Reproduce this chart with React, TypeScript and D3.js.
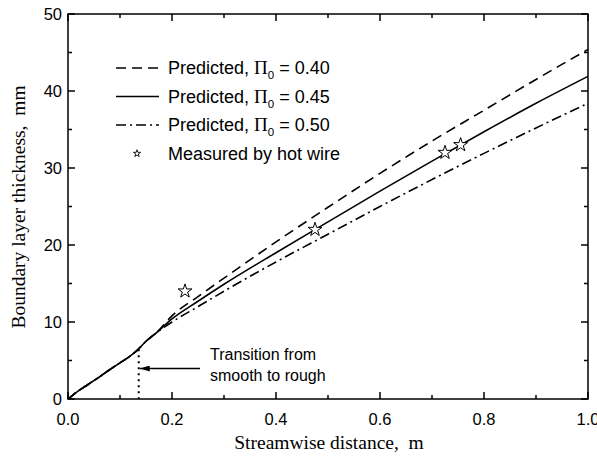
import React from "react";
import * as d3 from "d3";

const xMajor = [0, 0.2, 0.4, 0.6, 0.8, 1.0];
const xMinor = [0.1, 0.3, 0.5, 0.7, 0.9];
const yMajor = [0, 10, 20, 30, 40, 50];
const yMinor = [5, 15, 25, 35, 45];

const sharedX = [0, 0.01, 0.02, 0.04, 0.06, 0.08, 0.1, 0.12, 0.135, 0.15, 0.17];
const sharedY = [0, 0.55, 1.05, 1.95, 2.85, 3.8, 4.7, 5.6, 6.45, 7.5, 8.6];
const tailX = [0.2, 0.25, 0.3, 0.4, 0.5, 0.6, 0.7, 0.8, 0.9, 1.0];
const pred040 = [10.8, 13.3, 15.7, 20.4, 24.9, 29.3, 33.5, 37.5, 41.5, 45.4];
const pred045 = [10.4, 12.7, 14.9, 19.0, 23.0, 27.0, 30.9, 34.7, 38.4, 41.9];
const pred050 = [10.0, 12.0, 14.0, 17.8, 21.4, 25.0, 28.5, 31.9, 35.2, 38.4];

const measuredX = [0.225, 0.475, 0.725, 0.755];
const measuredY = [14, 22, 32, 33];

const legendPi = ["0.40", "0.45", "0.50"];
const transitionX = 0.136;

const W = 597, H = 458;
const x = d3.scaleLinear().domain([0, 1]).range([68, 588]);
const y = d3.scaleLinear().domain([0, 50]).range([399, 14]);

const line = d3
  .line<[number, number]>()
  .x((d) => x(d[0]))
  .y((d) => y(d[1]))
  .curve(d3.curveMonotoneX);

function series(vals: number[]): [number, number][] {
  const pts: [number, number][] = sharedX.map((v, i) => [v, sharedY[i]]);
  tailX.forEach((v, i) => pts.push([v, vals[i]]));
  return pts;
}

const styles = [
  { dash: "10,6" },
  { dash: null },
  { dash: "10,4,2,4" },
];

const starBig = d3.symbol(d3.symbolStar, 60)()!;
const starSmall = d3.symbol(d3.symbolStar, 16)()!;

const sans = "'Liberation Sans', Arial, sans-serif";
const serif = "'Liberation Serif', 'Times New Roman', serif";

export default function App() {
  const data = [pred040, pred045, pred050];
  const [x0, x1] = x.range();
  const [y0, y1] = y.range();
  return (
    <svg
      width={W}
      height={H}
      style={{ position: "absolute", left: 0, top: 0, background: "#fff" }}
    >
      <defs>
        <marker id="arr" viewBox="0 0 10 6" refX="10" refY="3" markerWidth="10" markerHeight="6" markerUnits="userSpaceOnUse" orient="auto">
          <path d="M0,0 L10,3 L0,6 Z" fill="#000" />
        </marker>
      </defs>
      {data.map((vals, i) => (
        <path
          key={i}
          d={line(series(vals))!}
          fill="none"
          stroke="#000"
          strokeWidth={1.6}
          strokeDasharray={styles[i].dash ?? undefined}
        />
      ))}
      {measuredX.map((v, i) => (
        <path
          key={i}
          d={starBig}
          transform={`translate(${x(v)},${y(measuredY[i])})`}
          fill="#fff"
          stroke="#000"
          strokeWidth={1}
        />
      ))}
      <line
        x1={x(transitionX)}
        x2={x(transitionX)}
        y1={y(6.45)}
        y2={y(0)}
        stroke="#000"
        strokeWidth={2}
        strokeDasharray="2,4"
      />
      <line
        x1={200}
        x2={x(transitionX) + 1}
        y1={368.5}
        y2={368.5}
        stroke="#000"
        strokeWidth={1.3}
        markerEnd="url(#arr)"
      />
      <text x={210} y={360} fontFamily={sans} fontSize={16}>Transition from</text>
      <text x={210} y={381} fontFamily={sans} fontSize={16}>smooth to rough</text>

      <rect x={x0} y={y1} width={x1 - x0} height={y0 - y1} fill="none" stroke="#000" strokeWidth={1.5} />
      {xMajor.map((t) => (
        <g key={"xm" + t}>
          <line x1={x(t)} x2={x(t)} y1={y0} y2={y0 - 7} stroke="#000" strokeWidth={1.5} />
          <line x1={x(t)} x2={x(t)} y1={y1} y2={y1 + 7} stroke="#000" strokeWidth={1.5} />
          <text x={x(t)} y={425} textAnchor="middle" fontFamily={sans} fontSize={16.5}>
            {d3.format(".1f")(t)}
          </text>
        </g>
      ))}
      {xMinor.map((t) => (
        <g key={"xn" + t}>
          <line x1={x(t)} x2={x(t)} y1={y0} y2={y0 - 4} stroke="#000" strokeWidth={1.5} />
          <line x1={x(t)} x2={x(t)} y1={y1} y2={y1 + 4} stroke="#000" strokeWidth={1.5} />
        </g>
      ))}
      {yMajor.map((t) => (
        <g key={"ym" + t}>
          <line x1={x0} x2={x0 + 7} y1={y(t)} y2={y(t)} stroke="#000" strokeWidth={1.5} />
          <line x1={x1} x2={x1 - 7} y1={y(t)} y2={y(t)} stroke="#000" strokeWidth={1.5} />
          <text x={62} y={y(t) + 6} textAnchor="end" fontFamily={sans} fontSize={16.5}>
            {t}
          </text>
        </g>
      ))}
      {yMinor.map((t) => (
        <g key={"yn" + t}>
          <line x1={x0} x2={x0 + 4} y1={y(t)} y2={y(t)} stroke="#000" strokeWidth={1.5} />
          <line x1={x1} x2={x1 - 4} y1={y(t)} y2={y(t)} stroke="#000" strokeWidth={1.5} />
        </g>
      ))}
      <text x={329} y={449} textAnchor="middle" fontFamily={serif} fontSize={19.5}>
        Streamwise distance,{"\u00a0\u00a0"}m
      </text>
      <text
        transform={`translate(25,${207}) rotate(-90)`}
        textAnchor="middle"
        fontFamily={serif}
        fontSize={19.5}
      >
        Boundary layer thickness,{"\u00a0\u00a0"}mm
      </text>
      {legendPi.map((p, i) => {
        const yy = 68 + i * 28.5;
        return (
          <g key={"lg" + i}>
            <line x1={116} x2={159} y1={yy} y2={yy} stroke="#000" strokeWidth={1.6} strokeDasharray={styles[i].dash ?? undefined} />
            <text x={168} y={yy + 6} fontFamily={sans} fontSize={18}>
              Predicted,{" "}
              <tspan fontFamily={serif} fontSize={19}>Π</tspan>
              <tspan fontSize={11.5} dy={5}>0</tspan>
              <tspan dy={-5}> = {p}</tspan>
            </text>
          </g>
        );
      })}
      <path d={starSmall} transform={`translate(137,${68 + 3 * 28.5})`} fill="#fff" stroke="#000" strokeWidth={0.9} />
      <text x={168} y={68 + 3 * 28.5 + 6} fontFamily={sans} fontSize={18}>
        Measured by hot wire
      </text>
    </svg>
  );
}
